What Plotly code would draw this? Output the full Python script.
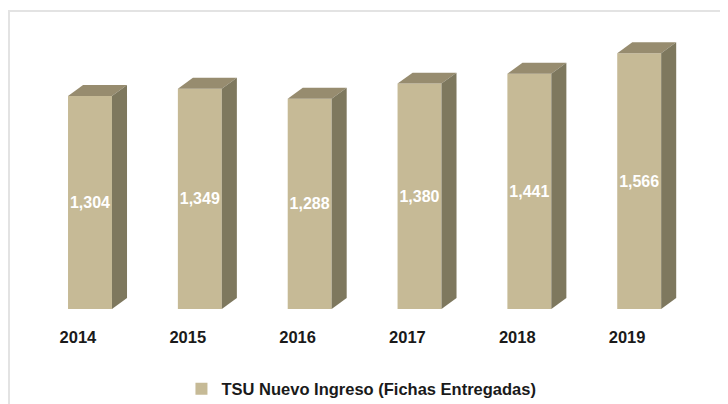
import plotly.graph_objects as go

years = ["2014", "2015", "2016", "2017", "2018", "2019"]
values = [1304, 1349, 1288, 1380, 1441, 1566]
series_name = "TSU Nuevo Ingreso (Fichas Entregadas)"

FRONT = "#C6BA96"
TOP = "#978C6F"
SIDE = "#7E785E"

pos = list(range(len(years)))
bar_offset = -0.09
bar_width = 0.40
dx = 0.137   # depth in category units
dy = 67      # depth in value units

W, H = 720, 396
L, R, T, B = 15, 24, 7, 95
PW, PH = W - L - R, H - T - B

fig = go.Figure()
fig.add_trace(go.Bar(
    x=pos, y=values, name=series_name,
    width=bar_width, offset=bar_offset,
    marker=dict(color=FRONT, line=dict(width=0)),
    text=[f"{v:,}" for v in values], textposition="inside",
    insidetextanchor="middle", textangle=0, constraintext="none",
    textfont=dict(color="white", size=16, family="Liberation Sans, Arial", weight="bold"),
    hoverinfo="skip",
))

for p, v in zip(pos, values):
    x0 = p + bar_offset
    x1 = x0 + bar_width
    fig.add_trace(go.Scatter(
        x=[x0, x1, x1 + dx, x0 + dx, x0], y=[v, v, v + dy, v + dy, v],
        fill="toself", fillcolor=TOP, mode="lines", line=dict(width=0, color=TOP),
        showlegend=False, hoverinfo="skip"))
    fig.add_trace(go.Scatter(
        x=[x1, x1 + dx, x1 + dx, x1, x1], y=[0, dy, v + dy, v, 0],
        fill="toself", fillcolor=SIDE, mode="lines", line=dict(width=0, color=SIDE),
        showlegend=False, hoverinfo="skip"))

fig.update_layout(
    width=W, height=H,
    margin=dict(l=L, r=R, t=T, b=B, autoexpand=False),
    paper_bgcolor="white", plot_bgcolor="white",
    font=dict(family="Liberation Sans, Arial", color="#1a1a1a"),
    xaxis=dict(range=[-0.5, 5.7], tickvals=pos, ticktext=years, showgrid=False,
               zeroline=False, showline=False, ticks="outside", ticklen=13,
               tickcolor="rgba(0,0,0,0)", automargin=False,
               tickfont=dict(size=16.5, weight="bold", color="#1a1a1a")),
    yaxis=dict(range=[0, 1800], visible=False, automargin=False),
    showlegend=True,
    legend=dict(orientation="h", x=0.497, xanchor="center",
                y=-(381 - (T + PH)) / PH, yanchor="middle",
                font=dict(size=16.5, weight="bold", color="#1a1a1a"),
                itemwidth=30),
    shapes=[dict(type="rect", xref="paper", yref="paper",
                 x0=(1 - L) / PW, x1=1.2, y0=-0.5, y1=(T + PH - 3) / PH,
                 line=dict(color="#E3E3E3", width=2), fillcolor="rgba(0,0,0,0)",
                 layer="below")],
)

fig.write_html("out.html")
